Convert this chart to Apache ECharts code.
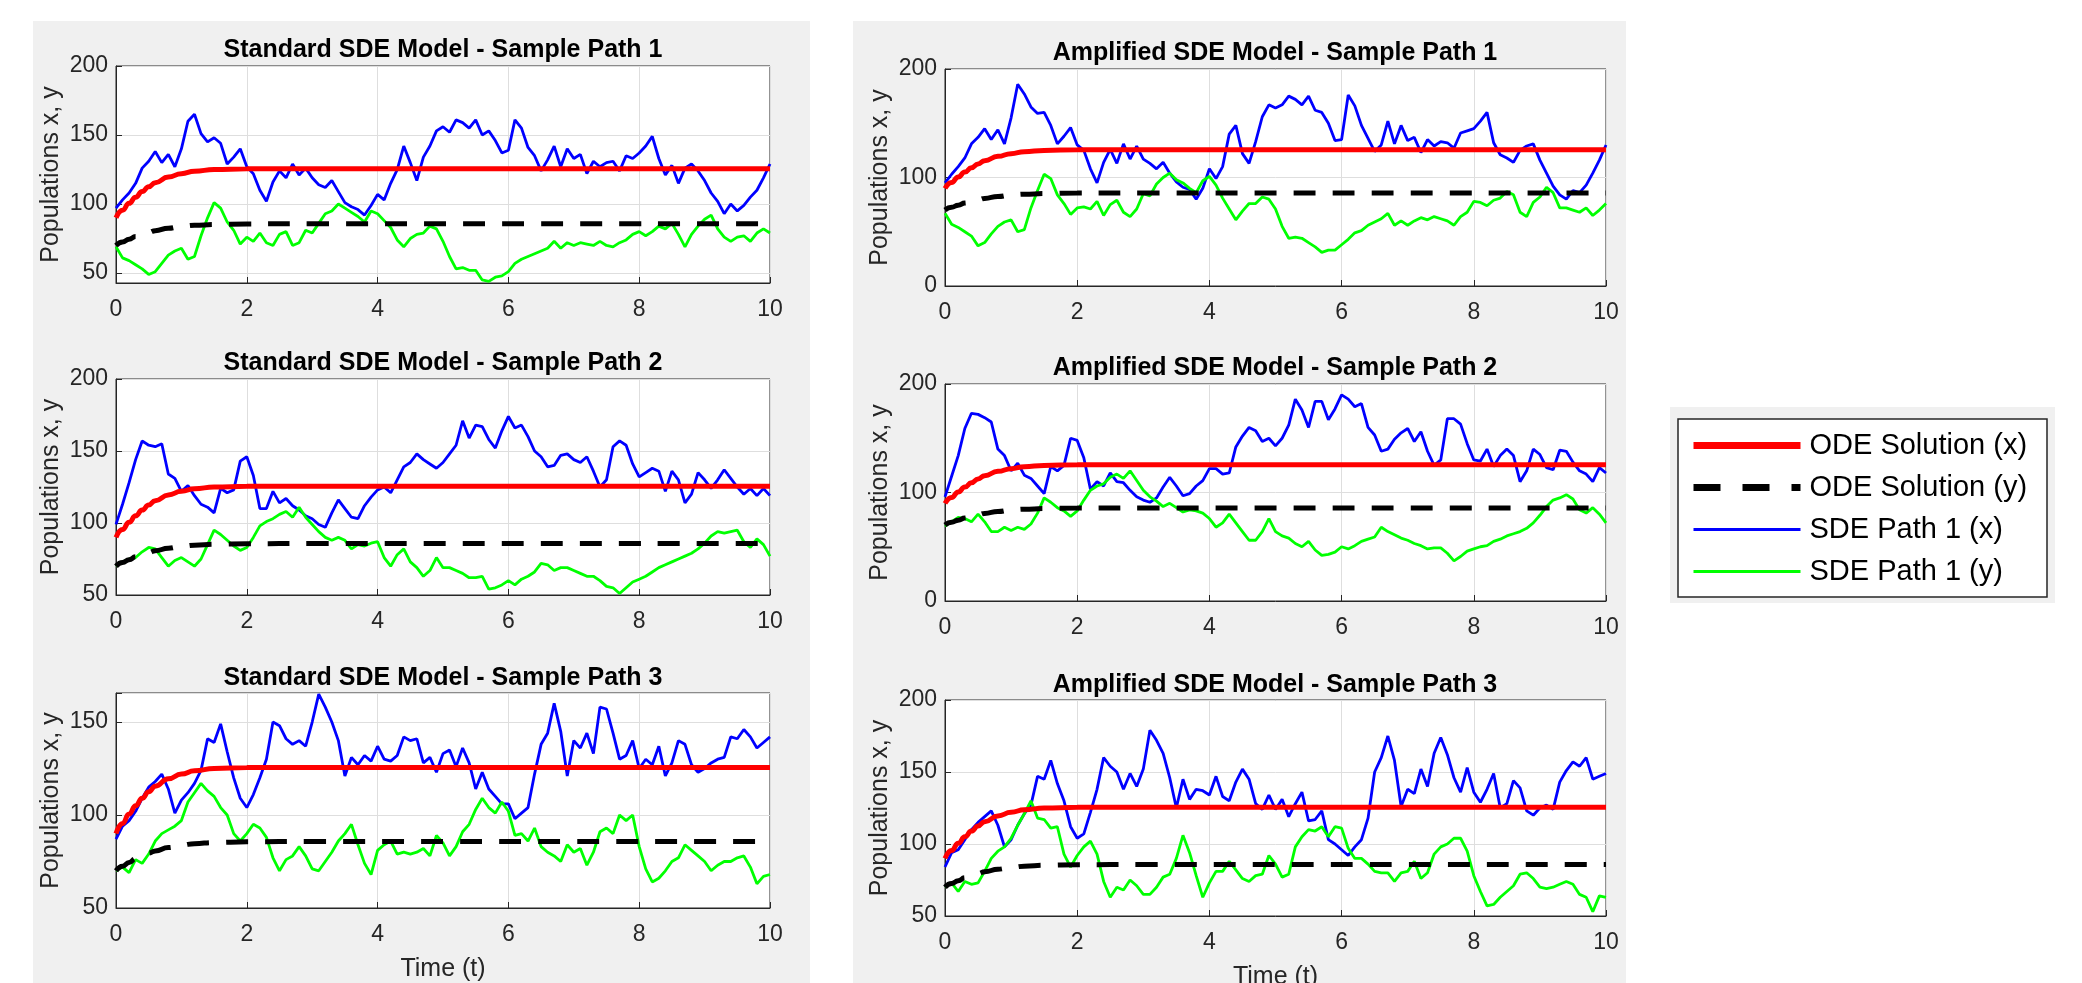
<!DOCTYPE html>
<html>
<head>
<meta charset="utf-8">
<title>Standard vs amplified SDE sample paths</title>
<script src="https://cdn.jsdelivr.net/npm/echarts@6.0.0/dist/echarts.min.js"></script>
<style>
  html, body { margin: 0; padding: 0; background: #fff; }
  #chart { width: 2082px; height: 983px; }
</style>
</head>
<body>
<div id="chart"></div>
<script>
// time points of the SDE paths (step 0.1)
const T = [
  0, 0.1, 0.2, 0.3, 0.4, 0.5, 0.6, 0.7, 0.8, 0.9,
  1, 1.1, 1.2, 1.3, 1.4, 1.5, 1.6, 1.7, 1.8, 1.9,
  2, 2.1, 2.2, 2.3, 2.4, 2.5, 2.6, 2.7, 2.8, 2.9,
  3, 3.1, 3.2, 3.3, 3.4, 3.5, 3.6, 3.7, 3.8, 3.9,
  4, 4.1, 4.2, 4.3, 4.4, 4.5, 4.6, 4.7, 4.8, 4.9,
  5, 5.1, 5.2, 5.3, 5.4, 5.5, 5.6, 5.7, 5.8, 5.9,
  6, 6.1, 6.2, 6.3, 6.4, 6.5, 6.6, 6.7, 6.8, 6.9,
  7, 7.1, 7.2, 7.3, 7.4, 7.5, 7.6, 7.7, 7.8, 7.9,
  8, 8.1, 8.2, 8.3, 8.4, 8.5, 8.6, 8.7, 8.8, 8.9,
  9, 9.1, 9.2, 9.3, 9.4, 9.5, 9.6, 9.7, 9.8, 9.9,
  10
];

// ODE solution (same in every panel)
const odeT = [0, 0.1, 0.2, 0.3, 0.4, 0.5, 0.6, 0.8, 1.0, 1.2, 1.5, 2, 3, 10];
const odeX = [90, 95.5, 100.5, 105, 109, 112.5, 115.5, 119.5, 122, 123.8, 125, 125.5, 125.6, 125.6];
const odeY = [70, 72.5, 74.5, 76.5, 78, 79.5, 80.7, 82.5, 83.8, 84.6, 85.2, 85.6, 85.8, 85.8];

// standard SDE model
const std1X = [
  97, 103, 108, 115, 126, 131, 138, 130, 136, 127,
  140, 160, 165, 151, 145, 148, 144, 129, 134, 140,
  127, 122, 110, 102, 116, 124, 119, 129, 121, 126,
  119, 114, 112, 117, 109, 101, 98, 96, 92, 99,
  107, 103, 115, 125, 142, 130, 117, 134, 142, 153,
  156, 152, 161, 159, 155, 161, 150, 153, 146, 137,
  139, 161, 155, 141, 135, 124, 132, 142, 127, 140,
  133, 136, 122, 131, 127, 130, 131, 124, 135, 133,
  137, 142, 149, 133, 121, 128, 115, 126, 129, 124,
  117, 108, 102, 93, 100, 95, 99, 105, 110, 119,
  129
];
const std1Y = [
  69, 61, 59, 56, 53, 49, 51, 57, 63, 66,
  68, 60, 62, 77, 90, 101, 97, 87, 81, 71,
  76, 73, 79, 72, 70, 78, 80, 70, 72, 81,
  79, 86, 93, 95, 100, 97, 94, 91, 87, 95,
  93, 88, 83, 74, 69, 75, 78, 79, 84, 82,
  73, 62, 53, 54, 52, 52, 45, 44, 47, 48,
  51, 57, 60, 62, 64, 66, 68, 73, 68, 72,
  70, 72, 71, 70, 73, 70, 69, 72, 74, 78,
  80, 77, 80, 84, 82, 86, 78, 69, 78, 84,
  89, 92, 82, 76, 73, 76, 77, 73, 79, 82,
  79
];
const std2X = [
  99, 113, 128, 144, 157, 154, 153, 155, 134, 131,
  122, 126, 119, 113, 111, 107, 124, 121, 123, 143,
  146, 133, 110, 110, 122, 114, 117, 112, 109, 105,
  103, 99, 97, 107, 116, 110, 104, 103, 112, 118,
  123, 125, 121, 130, 139, 142, 148, 144, 141, 138,
  142, 148, 154, 171, 159, 168, 167, 158, 152, 164,
  174, 166, 168, 160, 150, 146, 139, 140, 147, 148,
  144, 142, 146, 136, 125, 130, 153, 157, 154, 141,
  132, 135, 138, 136, 122, 136, 130, 114, 120, 135,
  130, 124, 130, 137, 131, 125, 120, 124, 119, 124,
  119
];
const std2Y = [
  70, 73, 75, 76, 80, 83, 82, 76, 70, 74,
  76, 73, 70, 75, 85, 95, 92, 88, 84, 81,
  83, 90, 98, 101, 103, 106, 108, 104, 111, 104,
  99, 94, 90, 88, 90, 88, 82, 85, 84, 86,
  87, 76, 70, 78, 82, 73, 69, 63, 67, 76,
  69, 69, 67, 65, 62, 62, 63, 54, 55, 57,
  60, 57, 61, 63, 66, 72, 71, 67, 69, 69,
  67, 65, 63, 63, 60, 56, 55, 51, 55, 59,
  61, 63, 66, 69, 71, 73, 75, 77, 79, 82,
  86, 91, 94, 93, 94, 95, 87, 83, 89, 85,
  77
];
const std3X = [
  87, 94, 97, 102, 109, 115, 118, 122, 114, 101,
  108, 112, 117, 124, 141, 139, 149, 134, 120, 109,
  104, 111, 120, 130, 150, 148, 141, 138, 140, 137,
  150, 165, 158, 150, 140, 121, 131, 127, 132, 129,
  137, 130, 129, 132, 142, 140, 141, 128, 131, 123,
  133, 135, 126, 136, 128, 114, 123, 114, 110, 106,
  106, 98, 101, 104, 122, 138, 144, 160, 145, 121,
  140, 136, 144, 133, 158, 157, 144, 130, 132, 140,
  125, 130, 127, 137, 121, 128, 140, 138, 127, 123,
  125, 128, 130, 131, 142, 141, 146, 142, 136, 139,
  142
];
const std3Y = [
  70, 72, 69, 76, 74, 79, 86, 90, 92, 94,
  97, 107, 112, 117, 113, 110, 104, 100, 90, 86,
  90, 95, 93, 88, 77, 70, 76, 78, 83, 78,
  71, 70, 75, 80, 86, 90, 95, 84, 74, 68,
  81, 84, 86, 79, 80, 79, 80, 82, 78, 89,
  85, 78, 83, 91, 95, 103, 109, 104, 101, 107,
  102, 89, 90, 86, 93, 83, 80, 78, 75, 84,
  80, 82, 73, 80, 91, 93, 90, 100, 97, 100,
  83, 71, 64, 66, 70, 75, 77, 84, 81, 78,
  75, 70, 73, 75, 75, 77, 78, 72, 63, 67,
  68
];

// amplified SDE model
const amp1X = [
  95, 103, 110, 118, 131, 137, 145, 135, 144, 131,
  155, 186, 177, 165, 159, 160, 148, 131, 138, 146,
  130, 125, 108, 95, 114, 126, 113, 131, 117, 129,
  117, 113, 108, 114, 104, 96, 91, 89, 80, 90,
  108, 99, 110, 140, 148, 122, 113, 133, 156, 167,
  164, 167, 175, 172, 167, 175, 162, 160, 150, 134,
  135, 176, 166, 148, 136, 124, 130, 152, 131, 148,
  134, 137, 123, 135, 129, 133, 132, 127, 141, 143,
  145, 152, 160, 132, 121, 118, 114, 125, 129, 131,
  116, 104, 92, 84, 80, 88, 86, 93, 104, 116,
  130
];
const amp1Y = [
  67, 57, 54, 50, 46, 37, 40, 48, 55, 59,
  61, 50, 52, 72, 88, 103, 99, 84, 76, 66,
  72, 73, 71, 78, 65, 75, 79, 68, 64, 71,
  85, 83, 94, 100, 104, 98, 95, 90, 86, 97,
  101, 93, 81, 71, 61, 69, 76, 76, 82, 80,
  71, 55, 44, 45, 44, 40, 36, 31, 33, 33,
  38, 43, 49, 51, 56, 59, 62, 67, 56, 60,
  56, 60, 63, 61, 64, 62, 60, 56, 64, 68,
  78, 77, 74, 79, 81, 87, 84, 68, 64, 77,
  82, 91, 86, 72, 72, 70, 68, 72, 65, 70,
  76
];
const amp2X = [
  96, 115, 134, 159, 173, 172, 169, 165, 140, 134,
  120, 127, 116, 113, 106, 99, 124, 120, 125, 150,
  148, 132, 103, 110, 106, 118, 110, 109, 102, 96,
  93, 91, 95, 105, 114, 106, 97, 99, 106, 111,
  122, 122, 117, 118, 142, 152, 160, 157, 147, 150,
  143, 150, 162, 186, 176, 160, 184, 184, 167, 177,
  190, 186, 179, 182, 160, 153, 138, 140, 149, 155,
  159, 147, 156, 138, 125, 130, 168, 168, 163, 145,
  130, 129, 140, 124, 134, 140, 134, 110, 120, 140,
  135, 123, 121, 139, 138, 128, 120, 117, 110, 123,
  118
];
const amp2Y = [
  69, 73, 77, 76, 73, 80, 73, 64, 64, 68,
  65, 68, 66, 71, 81, 95, 91, 86, 83, 78,
  83, 93, 102, 106, 108, 114, 117, 113, 120, 111,
  102, 96, 92, 87, 90, 86, 82, 84, 83, 81,
  76, 68, 72, 80, 72, 64, 56, 56, 64, 76,
  64, 60, 58, 53, 50, 55, 47, 42, 43, 45,
  50, 48, 51, 55, 57, 59, 68, 64, 61, 58,
  56, 53, 51, 48, 49, 49, 44, 37, 41, 46,
  48, 50, 51, 55, 57, 60, 62, 64, 67, 72,
  79, 87, 93, 95, 98, 94, 84, 81, 86, 80,
  72
];
const amp3X = [
  84, 94, 96, 103, 110, 115, 119, 123, 113, 98,
  103, 113, 121, 127, 147, 145, 158, 142, 130, 112,
  104, 107, 122, 138, 160, 154, 150, 138, 149, 140,
  152, 179, 172, 163, 146, 125, 145, 131, 138, 137,
  134, 147, 133, 130, 143, 152, 145, 128, 124, 134,
  124, 131, 119, 128, 136, 116, 117, 123, 103, 100,
  96, 92, 98, 103, 118, 150, 160, 175, 158, 126,
  138, 135, 152, 140, 163, 174, 162, 146, 136, 153,
  136, 129, 138, 149, 125, 128, 144, 139, 123, 120,
  125, 127, 124, 143, 151, 157, 154, 160, 145, 147,
  149
];
const amp3Y = [
  70, 73, 67, 74, 72, 73, 81, 90, 95, 98,
  104, 113, 121, 130, 118, 117, 111, 112, 93, 84,
  92, 98, 102, 93, 74, 63, 70, 68, 75, 71,
  65, 65, 70, 77, 79, 90, 106, 94, 78, 63,
  73, 81, 81, 88, 82, 76, 74, 78, 79, 92,
  86, 77, 79, 98, 105, 110, 109, 112, 105, 112,
  111, 97, 90, 90, 86, 81, 80, 80, 74, 80,
  81, 88, 76, 80, 93, 98, 100, 104, 104, 95,
  78, 67, 57, 58, 63, 67, 71, 79, 80, 76,
  70, 69, 70, 72, 74, 72, 65, 63, 53, 64,
  63
];

const NAMES = ['ODE Solution (x)', 'ODE Solution (y)', 'SDE Path 1 (x)', 'SDE Path 1 (y)'];

const panels = [
  { title: 'Standard SDE Model - Sample Path 1', x: std1X, y: std1Y },
  { title: 'Standard SDE Model - Sample Path 2', x: std2X, y: std2Y },
  { title: 'Standard SDE Model - Sample Path 3', x: std3X, y: std3Y },
  { title: 'Amplified SDE Model - Sample Path 1', x: amp1X, y: amp1Y },
  { title: 'Amplified SDE Model - Sample Path 2', x: amp2X, y: amp2Y },
  { title: 'Amplified SDE Model - Sample Path 3', x: amp3X, y: amp3Y }
];

// plot boxes, pixel positions
const boxes = [
  { left: 116, top: 66, width: 654, height: 217, tx: 443, ty: 38, min: 42.8, max: 200, split: 3 },
  { left: 116, top: 379, width: 654, height: 216, tx: 443, ty: 351, min: 50, max: 200, interval: 50 },
  { left: 116, top: 693, width: 654, height: 215, tx: 443, ty: 666, min: 50, max: 165.6, interval: 50, timeAxis: true },
  { left: 945, top: 69, width: 661, height: 217, tx: 1275, ty: 41, min: 0, max: 200, interval: 100 },
  { left: 945, top: 384, width: 661, height: 217, tx: 1275, ty: 356, min: 0, max: 200, interval: 100 },
  { left: 945, top: 700, width: 661, height: 216, tx: 1275, ty: 673, min: 50, max: 200, interval: 50, timeAxis: true }
];

const FONT = '"Liberation Sans", Arial, Helvetica, sans-serif';
const INK = '#262626';

function pairs(ts, vs) {
  return ts.map((t, i) => [t, vs[i]]);
}

const grids = [], xAxes = [], yAxes = [], titles = [], series = [];

panels.forEach((p, i) => {
  const b = boxes[i];
  grids.push({
    left: b.left, top: b.top, width: b.width, height: b.height,
    show: true, backgroundColor: '#fff', borderColor: INK, borderWidth: 1,
    outerBoundsMode: 'none'
  });
  titles.push({
    text: p.title, left: b.tx, top: b.ty, textAlign: 'center', padding: 0,
    textStyle: { fontFamily: FONT, fontSize: 25, fontWeight: 'bold', color: '#000' }
  });
  xAxes.push({
    type: 'value', gridIndex: i, min: 0, max: 10, interval: 2,
    name: b.timeAxis ? 'Time (t)' : '', nameLocation: 'middle', nameGap: 49,
    nameTextStyle: { fontFamily: FONT, fontSize: 25, color: INK },
    axisLine: { show: true, onZero: false, lineStyle: { color: INK } },
    axisTick: { show: true, inside: true, length: 6, lineStyle: { color: INK } },
    axisLabel: { fontFamily: FONT, fontSize: 23, color: INK, margin: 15 },
    splitLine: { show: true, lineStyle: { color: '#dedede' } }
  });
  const y = {
    type: 'value', gridIndex: i, min: b.min, max: b.max,
    name: 'Populations x, y', nameLocation: 'middle', nameGap: 52,
    nameTextStyle: { fontFamily: FONT, fontSize: 25, color: INK },
    axisLine: { show: true, onZero: false, lineStyle: { color: INK } },
    axisTick: { show: true, inside: true, length: 6, lineStyle: { color: INK } },
    axisLabel: {
      fontFamily: FONT, fontSize: 23, color: INK, margin: 8,
      formatter: v => (v % 50 === 0 ? String(v) : '')
    },
    splitLine: { show: true, lineStyle: { color: '#dedede' } }
  };
  if (b.interval) y.interval = b.interval;
  if (b.split) y.splitNumber = b.split;
  yAxes.push(y);

  series.push({
    name: NAMES[2], type: 'line', xAxisIndex: i, yAxisIndex: i,
    data: pairs(T, p.x), symbol: 'none', showSymbol: false, z: 2,
    lineStyle: { color: '#0000ff', width: 2.8 }, itemStyle: { color: '#0000ff' }
  });
  series.push({
    name: NAMES[3], type: 'line', xAxisIndex: i, yAxisIndex: i,
    data: pairs(T, p.y), symbol: 'none', showSymbol: false, z: 2,
    lineStyle: { color: '#00ff00', width: 2.8 }, itemStyle: { color: '#00ff00' }
  });
  series.push({
    name: NAMES[0], type: 'line', xAxisIndex: i, yAxisIndex: i,
    data: pairs(odeT, odeX), symbol: 'none', showSymbol: false, z: 3,
    smooth: true, smoothMonotone: 'x',
    lineStyle: { color: '#ff0000', width: 5 }, itemStyle: { color: '#ff0000' }
  });
  series.push({
    name: NAMES[1], type: 'line', xAxisIndex: i, yAxisIndex: i,
    data: pairs(odeT, odeY), symbol: 'none', showSymbol: false, z: 4,
    smooth: true, smoothMonotone: 'x',
    lineStyle: { color: '#000', width: 5, type: [22, 17] }, itemStyle: { color: '#000' }
  });
});

const option = {
  animation: false,
  backgroundColor: '#fff',
  graphic: [
    { type: 'rect', z: -10, silent: true, shape: { x: 33, y: 21, width: 777, height: 962 }, style: { fill: '#f0f0f0' } },
    { type: 'rect', z: -10, silent: true, shape: { x: 853, y: 21, width: 773, height: 962 }, style: { fill: '#f0f0f0' } },
    { type: 'rect', z: -10, silent: true, shape: { x: 1670, y: 407, width: 385, height: 196 }, style: { fill: '#f0f0f0' } },
    { type: 'rect', z: -5, silent: true, shape: { x: 1678, y: 419, width: 369, height: 178 }, style: { fill: '#fff', stroke: INK, lineWidth: 1.5 } }
  ],
  title: titles,
  legend: {
    orient: 'vertical', left: 1690, top: 431, padding: 0,
    itemWidth: 107, itemHeight: 14, itemGap: 13,
    selectedMode: false,
    itemStyle: { opacity: 0 },
    textStyle: { fontFamily: FONT, fontSize: 29, color: '#000', padding: [0, 0, 0, 4] },
    data: [
      { name: NAMES[0], lineStyle: { width: 7 } },
      { name: NAMES[1], lineStyle: { type: [27, 22], width: 7 } },
      { name: NAMES[2], lineStyle: { width: 3 } },
      { name: NAMES[3], lineStyle: { width: 3 } }
    ]
  },
  grid: grids,
  xAxis: xAxes,
  yAxis: yAxes,
  series: series
};

const chart = echarts.init(document.getElementById('chart'));
chart.setOption(option);
</script>
</body>
</html>
